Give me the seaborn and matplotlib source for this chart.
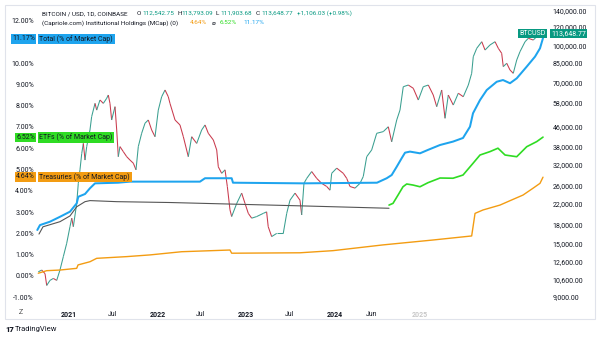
import numpy as np
import pandas as pd
import matplotlib
matplotlib.use("Agg")
import matplotlib.pyplot as plt
import seaborn as sns
from matplotlib.patches import Rectangle

sns.set_theme(style="white")
plt.rcParams['font.family'] = ['Roboto', 'DejaVu Sans']

# ---------------- data ----------------
# position along the time axis (decimal years as laid out on the chart)
price_x = [2020.653, 2020.692, 2020.729, 2020.748, 2020.785, 2020.823, 2020.861, 2020.898, 2020.936, 2020.974,
           2021.011, 2021.031, 2021.049, 2021.087, 2021.105, 2021.124, 2021.144, 2021.162, 2021.181, 2021.200,
           2021.237, 2021.256, 2021.294, 2021.313, 2021.350, 2021.388, 2021.426, 2021.444, 2021.463, 2021.482,
           2021.520, 2021.539, 2021.557, 2021.576, 2021.614, 2021.652, 2021.689, 2021.727, 2021.757, 2021.783,
           2021.821, 2021.859, 2021.896, 2021.934, 2021.972, 2022.009, 2022.047, 2022.085, 2022.122, 2022.141,
           2022.198, 2022.254, 2022.292, 2022.348, 2022.386, 2022.443, 2022.499, 2022.537, 2022.574, 2022.631,
           2022.669, 2022.687, 2022.725, 2022.763, 2022.789, 2022.819, 2022.838, 2022.895, 2022.951, 2022.989,
           2023.026, 2023.064, 2023.121, 2023.195, 2023.233, 2023.251, 2023.290, 2023.347, 2023.421, 2023.460,
           2023.497, 2023.554, 2023.610, 2023.629, 2023.655, 2023.686, 2023.742, 2023.799, 2023.855, 2023.912,
           2023.949, 2023.968, 2024.025, 2024.099, 2024.138, 2024.175, 2024.232, 2024.288, 2024.325, 2024.364,
           2024.420, 2024.477, 2024.551, 2024.608, 2024.646, 2024.703, 2024.740, 2024.777, 2024.834, 2024.890,
           2024.947, 2025.003, 2025.060, 2025.116, 2025.155, 2025.211, 2025.249, 2025.286, 2025.342, 2025.399,
           2025.455, 2025.512, 2025.550, 2025.568, 2025.607, 2025.664, 2025.701, 2025.757, 2025.814, 2025.851,
           2025.889, 2025.907, 2025.946, 2025.983, 2026.020, 2026.059, 2026.096, 2026.153, 2026.190, 2026.246,
           2026.285, 2026.334]
price_close = [11400, 11600, 11200, 10000, 10500, 10700, 10500, 11600, 13200, 15000,
               17600, 19100, 17600, 22000, 26700, 30400, 35600, 39200, 33400, 38000,
               44600, 50700, 57600, 54000, 59500, 57600, 60500, 62400, 57600, 49100,
               55800, 44600, 34500, 38000, 36200, 34500, 33400, 32400, 30400, 38000,
               43200, 47600, 49100, 44600, 41800, 54000, 61400, 65500, 61400, 57600,
               49100, 46800, 41800, 34500, 41800, 39200, 44600, 46800, 43200, 40500,
               36800, 31300, 29400, 30400, 25900, 20700, 19400, 22000, 24300, 22000,
               20000, 19100, 19400, 20000, 20300, 17600, 16000, 16500, 16500, 20000,
               22700, 24300, 22700, 19700, 26700, 28000, 29900, 28000, 26700, 25900,
               25000, 29400, 30900, 29400, 28000, 25900, 25500, 26700, 28500, 34500,
               36800, 43200, 43900, 46000, 39800, 49100, 54000, 67600, 68700, 66600,
               59500, 67600, 68700, 62400, 55800, 65500, 49900, 62400, 56700, 63500,
               61400, 68700, 76900, 90200, 97800, 104200, 96200, 101000, 104200, 97800,
               93200, 82000, 84700, 79400, 76900, 87400, 94700, 104200, 107700, 105900,
               109500, 113648.77]

total_x = [2020.642, 2020.672, 2020.785, 2020.898, 2021.011, 2021.087, 2021.105, 2021.181, 2021.237, 2021.294,
           2021.554, 2021.689, 2022.480, 2022.537, 2022.838, 2022.853, 2023.644, 2024.480, 2024.590, 2024.646,
           2024.703, 2024.759, 2024.797, 2024.853, 2024.966, 2025.056, 2025.192, 2025.339, 2025.452, 2025.531,
           2025.565, 2025.644, 2025.720, 2025.833, 2025.904, 2025.983, 2026.059, 2026.172, 2026.266, 2026.322,
           2026.356]
total_pct = [2.16, 2.39, 2.55, 2.78, 3.02, 3.41, 3.72, 3.85, 4.12, 4.35,
             4.38, 4.43, 4.43, 4.59, 4.59, 4.38, 4.35, 4.38, 4.59, 4.74,
             5.13, 5.53, 5.79, 5.84, 5.76, 5.92, 6.15, 6.31, 6.48, 7.01,
             7.64, 8.26, 8.73, 9.12, 9.20, 9.05, 9.28, 9.83, 10.30, 10.69,
             11.17]

etf_x = [2024.616, 2024.661, 2024.718, 2024.774, 2024.816, 2024.887, 2024.966, 2025.056, 2025.192, 2025.339,
         2025.452, 2025.565, 2025.644, 2025.757, 2025.847, 2025.927, 2026.059, 2026.172, 2026.285, 2026.356]
etf_pct = [3.33, 3.41, 3.80, 4.19, 4.32, 4.27, 4.19, 4.38, 4.60, 4.59,
           4.74, 5.29, 5.68, 5.84, 6.00, 5.68, 5.60, 6.07, 6.31, 6.52]

other_x = [2020.661, 2020.706, 2020.898, 2021.011, 2021.087, 2021.181, 2021.237, 2021.539, 2022.141, 2023.644, 2024.616]
other_pct = [1.97, 2.31, 2.55, 2.82, 3.25, 3.49, 3.54, 3.49, 3.45, 3.29, 3.18]

treas_x = [2020.653, 2020.748, 2020.898, 2021.087, 2021.102, 2021.237, 2021.313, 2021.652, 2021.915, 2022.273,
           2022.819, 2022.838, 2023.610, 2023.983, 2024.548, 2025.113, 2025.550, 2025.588, 2025.678, 2025.870,
           2026.002, 2026.130, 2026.243, 2026.322, 2026.356]
treas_pct = [0.13, 0.25, 0.28, 0.36, 0.52, 0.67, 0.83, 0.91, 0.99, 1.14,
             1.22, 1.07, 1.09, 1.19, 1.46, 1.69, 1.88, 2.94, 3.10, 3.33,
             3.57, 3.80, 4.12, 4.35, 4.64]

pct_ticks = [-1, 0, 1, 2, 3, 4, 5, 6, 7, 8, 9, 10, 12]
price_ticks = [9000, 10600, 12600, 15000, 18000, 22000, 26000, 32000, 38000, 46000,
               58000, 70000, 85000, 100000, 120000, 140000]
date_tick_pos = [2021.0, 2021.49, 2022.0, 2022.49, 2023.0, 2023.49, 2024.0, 2024.42, 2024.96]
date_tick_lab = ["2021", "Jul", "2022", "Jul", "2023", "Jul", "2024", "Jun", "2025"]

# ---------------- figure ----------------
W, H = 600, 337
fig = plt.figure(figsize=(6, 3.37), dpi=100)
fig.patch.set_facecolor("white")

def fx(px):
    return px / W

def fy(py):
    return 1 - py / H

L_, R_, T_, B_ = 36, 548, 5, 305
ax = fig.add_axes([fx(L_), fy(B_), (R_ - L_) / W, (B_ - T_) / H])
ax2 = ax.twinx()

def year_of(px):
    return 2021 + (px - 69) / 88.5

ax.set_xlim(year_of(L_), year_of(R_))
ax.set_ylim((276 - B_) / 21.3, (276 - T_) / 21.3)
ax2.set_yscale("log")
ax2.set_ylim(100000 * np.exp(-(B_ - 46) / 104), 100000 * np.exp((46 - T_) / 104))

# price path (candles approximated by up/down coloured segments)
UP, DOWN = "#3a9f90", "#c93a4d"
for i in range(1, len(price_x)):
    c = UP if price_close[i] >= price_close[i - 1] else DOWN
    ax2.plot(price_x[i - 1:i + 1], price_close[i - 1:i + 1], color=c, lw=0.75, solid_capstyle="butt")

# indicator lines on top
ax.set_zorder(ax2.get_zorder() + 1)
ax.patch.set_visible(False)

BLUE, GREEN, ORANGE, GREY = "#1ea4ee", "#2fdc23", "#f39c12", "#555555"
sns.lineplot(x=other_x, y=other_pct, ax=ax, color=GREY, lw=0.8, estimator=None)
sns.lineplot(x=treas_x, y=treas_pct, ax=ax, color=ORANGE, lw=1.0, estimator=None)
sns.lineplot(x=etf_x, y=etf_pct, ax=ax, color=GREEN, lw=1.2, estimator=None)
sns.lineplot(x=total_x, y=total_pct, ax=ax, color=BLUE, lw=1.45, estimator=None)

TXT = "#131722"
FS = 5.0
HFS = 4.6
ax.set_yticks(pct_ticks)
ax.set_yticklabels([f"{v:.2f}%" for v in pct_ticks])
ax.tick_params(axis="y", length=0, labelsize=FS, colors=TXT, pad=1.5)
ax.set_xticks(date_tick_pos)
ax.set_xticklabels(date_tick_lab)
ax.tick_params(axis="x", length=0, labelsize=FS, colors=TXT, pad=4)
for lab in ax.get_xticklabels():
    if lab.get_text().isdigit():
        lab.set_fontweight("bold")
    if lab.get_text() == "2025":
        lab.set_color("#c8c8c8")

ax2.yaxis.set_major_locator(matplotlib.ticker.FixedLocator(price_ticks))
ax2.yaxis.set_minor_locator(matplotlib.ticker.NullLocator())
ax2.set_yticklabels([f"{v:,.2f}" for v in price_ticks])
ax2.tick_params(axis="y", length=0, labelsize=FS, colors=TXT, pad=3.5)
for a in (ax, ax2):
    for s in a.spines.values():
        s.set_visible(False)
    a.grid(False)
ax.set_xlabel("")
ax.set_ylabel("")

# pane border and separator
fig.patches.append(Rectangle((fx(5), fy(319)), (595 - 5) / W, (319 - 5) / H, transform=fig.transFigure,
                             fill=False, edgecolor="#e0e3eb", lw=0.8))

def T(px, py, s, color=TXT, **kw):
    kw.setdefault("fontsize", FS)
    return fig.text(fx(px), fy(py), s, color=color, va="center", ha=kw.pop("ha", "left"), **kw)

# header
VAL = "#089981"
T(42, 13.5, "BITCOIN / USD, 1D, COINBASE", fontsize=HFS)
T(137, 13.5, "O", fontsize=HFS); T(142, 13.5, "112,542.75", VAL, fontsize=HFS)
T(177, 13.5, "H", fontsize=HFS); T(181, 13.5, "113,793.09", VAL, fontsize=HFS)
T(216, 13.5, "L", fontsize=HFS); T(220, 13.5, "111,903.68", VAL, fontsize=HFS)
T(256, 13.5, "C", fontsize=HFS); T(261, 13.5, "113,648.77", VAL, fontsize=HFS)
T(297, 13.5, "+1,106.03 (+0.98%)", VAL, fontsize=HFS)
T(42, 23, "(Capriole.com) Institutional Holdings (MCap) (0)", fontsize=HFS)
T(189.5, 23, "4.64%", ORANGE, fontsize=HFS)
T(212, 23, "\u2300", family=["DejaVu Sans"], fontsize=HFS)
T(220, 23, "6.52%", GREEN, fontsize=HFS)
T(243, 23, "11.17%", BLUE, fontsize=HFS)

# left labels
def box(px, py, s, fc, ha="left", tc=TXT):
    T(px, py, s, tc, ha=ha, bbox=dict(boxstyle="square,pad=0.2", fc=fc, ec="none"))

box(35, 39, "11.17%", BLUE, ha="right")
box(39.5, 39, "Total (% of Market Cap)", BLUE)
box(35, 137.5, "6.52%", GREEN, ha="right")
box(39.5, 137.5, "ETFs (% of Market Cap)", GREEN)
box(35, 177, "4.64%", ORANGE, ha="right")
box(39.5, 177, "Treasuries (% of Market Cap)", ORANGE)

# right labels
box(546, 33.5, "BTCUSD", VAL, ha="right", tc="white")
box(551, 33.5, "113,648.77", VAL, tc="white")

# stray axis label on far left and footer
T(19, 313, "Z", "#555555")
T(5, 329, "17", fontweight="heavy", fontsize=5.5)
T(15, 329, "TradingView", fontsize=5.5)

fig.savefig("out.png", dpi=100, facecolor="white")
